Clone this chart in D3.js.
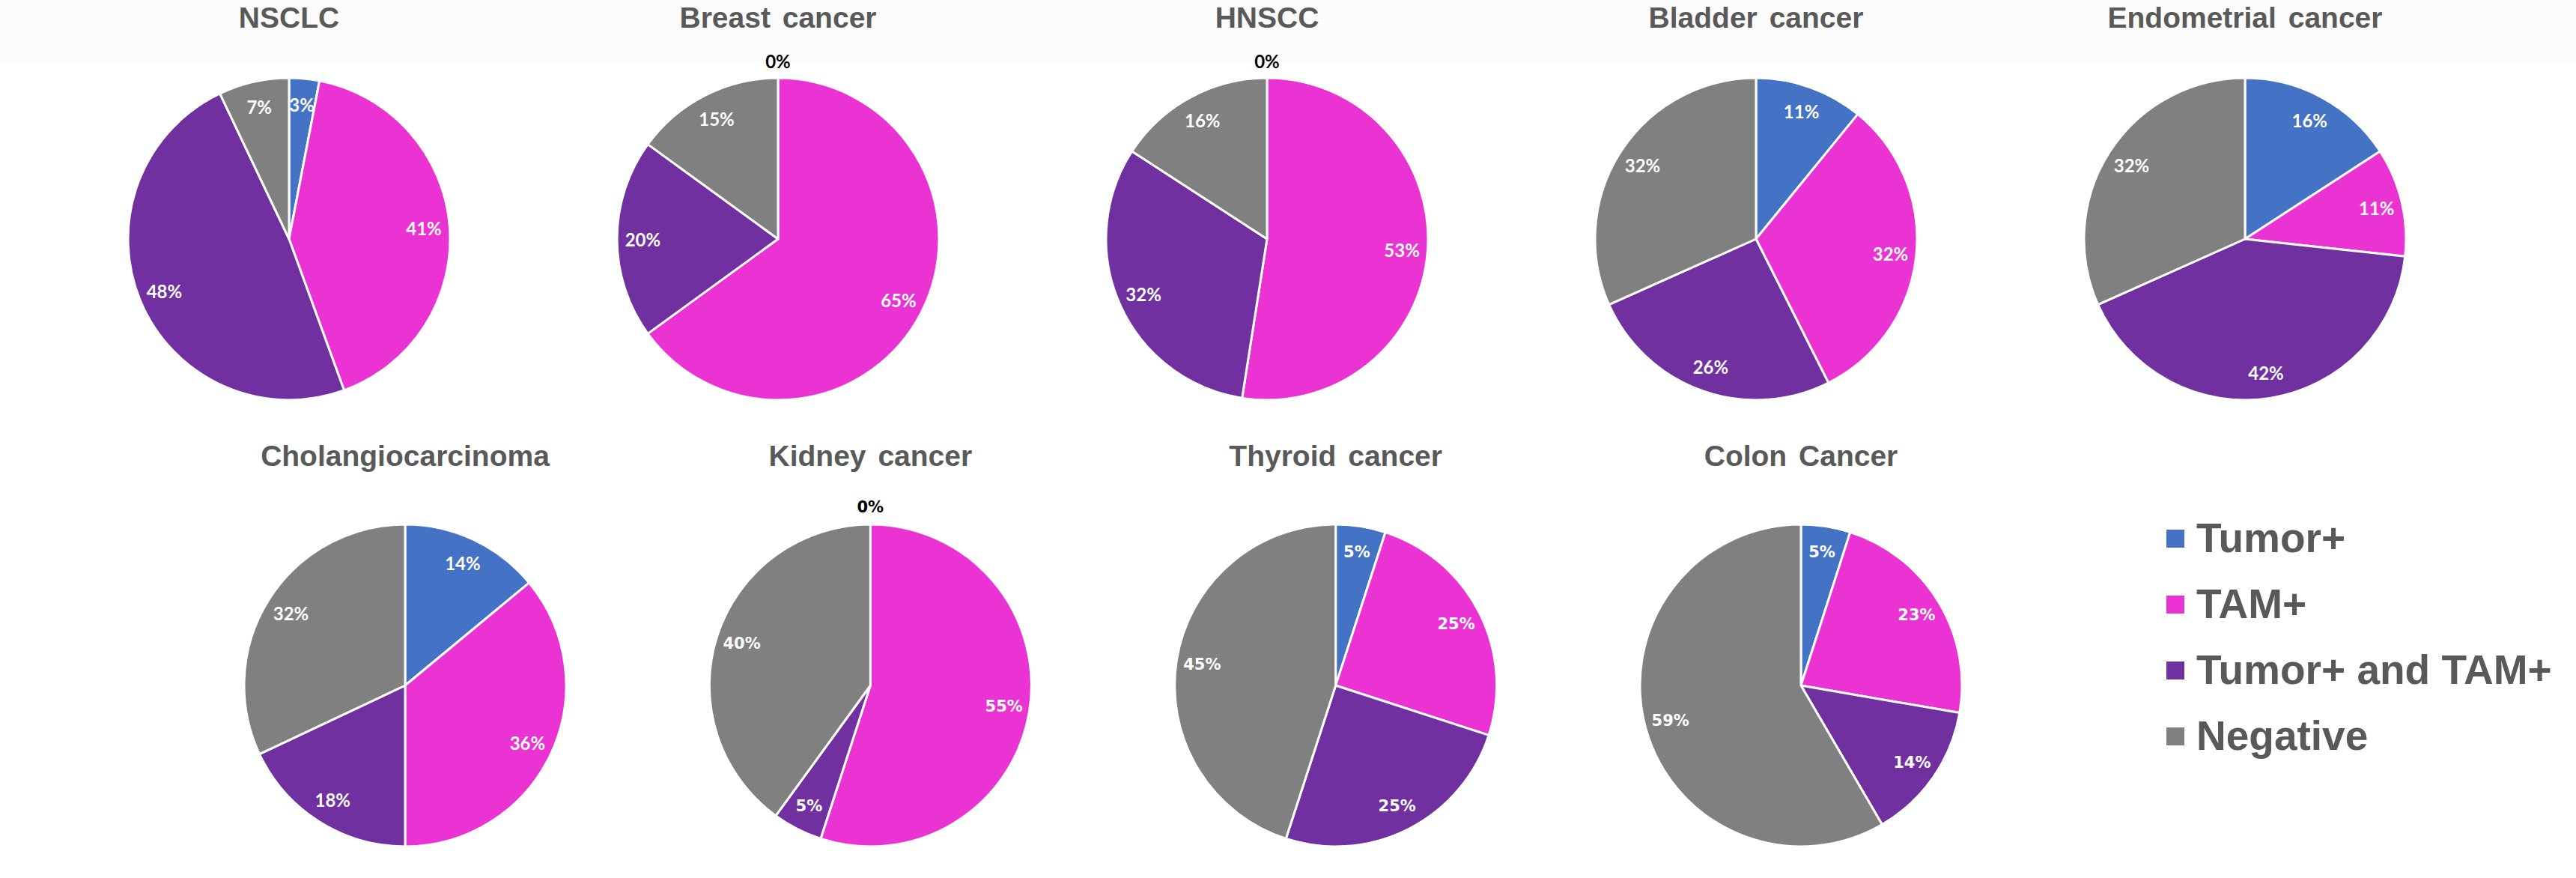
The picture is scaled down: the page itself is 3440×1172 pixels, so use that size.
<!DOCTYPE html>
<html>
<head>
<meta charset="utf-8">
<script src="https://cdn.jsdelivr.net/npm/d3@7"></script>
<style>
  html, body { margin: 0; padding: 0; background: #ffffff; }
  svg { display: block; }
</style>
</head>
<body>
<div id="chart"></div>
<script>
// Expression categories (legend order = slice order, clockwise from 12 o'clock)
const categories = ["Tumor+", "TAM+", "Tumor+ and TAM+", "Negative"];
const categoryColors = ["#4472C4", "#EB33D4", "#7030A0", "#808080"];

// Cancer types, one pie each
const cancerTypes = [
  "NSCLC", "Breast cancer", "HNSCC", "Bladder cancer", "Endometrial cancer",
  "Cholangiocarcinoma", "Kidney cancer", "Thyroid cancer", "Colon Cancer"
];

// Percent of cases per category
const tumorPos = [3, 0, 0, 11, 16, 14, 0, 5, 5];
const tamPos   = [41, 65, 53, 32, 11, 36, 55, 25, 23];
const bothPos  = [48, 20, 32, 26, 42, 18, 5, 25, 14];
const negative = [7, 15, 16, 32, 32, 32, 40, 45, 59];

const W = 3440, H = 1172;
const R = 215;

const svg = d3.select("#chart").append("svg")
  .attr("width", W).attr("height", H)
  .attr("viewBox", `0 0 ${W} ${H}`);

// faint header band behind the first row of titles
svg.append("rect").attr("x", 0).attr("y", 0).attr("width", W).attr("height", 82)
  .attr("fill", "#fbfbfb");

const color = d3.scaleOrdinal().domain(categories).range(categoryColors);

// grid: five pies on the first row, four on the second
const topNames = cancerTypes.slice(0, 5);
const bottomNames = cancerTypes.slice(5);
const xTop = d3.scalePoint().domain(topNames).range([386, 2998]);
const xBottom = d3.scalePoint().domain(bottomNames).range([541, 2405]);
const rowY = { top: 319, bottom: 915 };

const pie = d3.pie().sort(null).value(d => d.value);
const arc = d3.arc().innerRadius(0).outerRadius(R);

// percentage labels in the second row (except the first pie) use a wider face
const wideLabelCharts = new Set(["Kidney cancer", "Thyroid cancer", "Colon Cancer"]);

cancerTypes.forEach((name, i) => {
  const isTop = i < 5;
  const cx = isTop ? xTop(name) : xBottom(name);
  const cy = isTop ? rowY.top : rowY.bottom;
  const values = [tumorPos[i], tamPos[i], bothPos[i], negative[i]];
  const data = categories.map((c, k) => ({ category: c, value: values[k] }));
  const arcs = pie(data);

  const g = svg.append("g").attr("transform", `translate(${cx},${cy})`);

  g.selectAll("path.slice").data(arcs).join("path")
    .attr("class", "slice")
    .attr("d", arc)
    .attr("fill", d => color(d.data.category))
    .attr("stroke", "#ffffff")
    .attr("stroke-width", 3)
    .attr("stroke-linejoin", "round");

  const wide = wideLabelCharts.has(name);
  g.selectAll("text.pct").data(arcs).join("text")
    .attr("class", "pct")
    .attr("transform", d => {
      const a = (d.startAngle + d.endAngle) / 2;
      const dist = d.data.value === 0 ? R + 23 : R * 0.84;
      return `translate(${Math.sin(a) * dist},${-Math.cos(a) * dist})`;
    })
    .attr("text-anchor", "middle")
    .attr("dominant-baseline", "central")
    .attr("font-family", wide ? "'DejaVu Sans', Verdana, sans-serif" : "Lato, 'Open Sans', sans-serif")
    .attr("font-weight", "bold")
    .attr("font-size", wide ? 21 : 24)
    .attr("fill", d => d.data.value === 0 ? "#000000" : "#ffffff")
    .text(d => `${d.data.value}%`);

  svg.append("text")
    .attr("x", cx)
    .attr("y", isTop ? 37 : 622)
    .attr("text-anchor", "middle")
    .attr("font-family", "'Liberation Sans', Arial, sans-serif")
    .attr("font-weight", "bold")
    .attr("font-size", 39)
    .attr("word-spacing", 5)
    .attr("fill", "#595959")
    .text(name);
});

// legend
const legend = svg.append("g").attr("transform", "translate(2893,719)");
const items = legend.selectAll("g.item").data(categories).join("g")
  .attr("class", "item")
  .attr("transform", (d, k) => `translate(0,${k * 88})`);
items.append("rect")
  .attr("x", 0).attr("y", -12).attr("width", 24).attr("height", 24)
  .attr("fill", d => color(d));
items.append("text")
  .attr("x", 40).attr("y", 18)
  .attr("font-family", "'Liberation Sans', Arial, sans-serif")
  .attr("font-weight", "bold")
  .attr("font-size", 55)
  .attr("fill", "#595959")
  .text(d => d);
</script>
</body>
</html>
